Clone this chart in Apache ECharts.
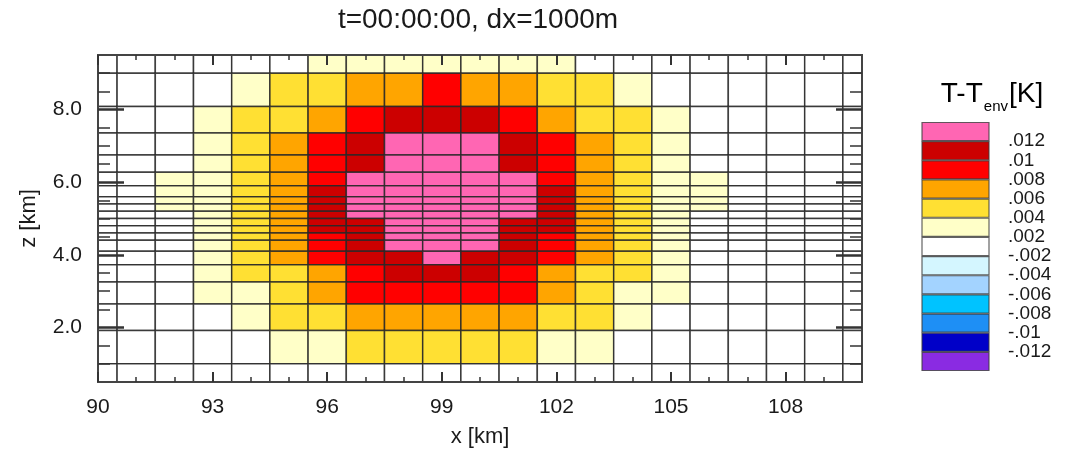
<!DOCTYPE html>
<html>
<head>
<meta charset="utf-8">
<script src="https://cdn.jsdelivr.net/npm/echarts@6/dist/echarts.min.js"></script>
<style>
  html, body { margin: 0; padding: 0; background: #ffffff; }
  #chart { width: 1065px; height: 452px; }
</style>
</head>
<body>
<div id="chart"></div>
<script>
// Column centres of the model grid [km]
const xCenters = [90, 91, 92, 93, 94, 95, 96, 97, 98, 99, 100, 101, 102, 103, 104, 105, 106, 107, 108, 109, 110];
const dx = 1.0;

// Vertical cell edges [km], stretched grid refined around z = 5 km
const zEdges = [0.0, 1.0, 1.92, 2.65, 3.25, 3.73, 4.1, 4.4, 4.6, 4.8, 5.0, 5.2, 5.4, 5.6, 5.9, 6.27, 6.75, 7.35, 8.08, 9.0, 10.0];

// Temperature perturbation T - T_env [K], one row per z cell, top row first
const dT = [
  [0, 0, 0, 0, 0, 0, .003, .003, .003, .003, .003, .003, .003, 0, 0, 0, 0, 0, 0, 0, 0],
  [0, 0, 0, 0, .003, .005, .005, .007, .007, .009, .007, .007, .005, .005, .003, 0, 0, 0, 0, 0, 0],
  [0, 0, 0, .003, .005, .005, .007, .009, .011, .011, .011, .009, .007, .005, .005, .003, 0, 0, 0, 0, 0],
  [0, 0, 0, .003, .005, .007, .009, .011, .013, .013, .013, .011, .009, .007, .005, .003, 0, 0, 0, 0, 0],
  [0, 0, 0, .003, .005, .007, .009, .011, .013, .013, .013, .011, .009, .007, .005, .003, 0, 0, 0, 0, 0],
  [0, 0, .003, .003, .005, .007, .009, .013, .013, .013, .013, .013, .009, .007, .005, .003, .003, 0, 0, 0, 0],
  [0, 0, .003, .003, .005, .007, .011, .013, .013, .013, .013, .013, .011, .007, .005, .003, .003, 0, 0, 0, 0],
  [0, 0, .003, .003, .005, .007, .011, .013, .013, .013, .013, .013, .011, .007, .005, .003, .003, 0, 0, 0, 0],
  [0, 0, .003, .003, .005, .007, .011, .013, .013, .013, .013, .013, .011, .007, .005, .003, .003, 0, 0, 0, 0],
  [0, 0, 0, .003, .005, .007, .011, .013, .013, .013, .013, .013, .011, .007, .005, .003, 0, 0, 0, 0, 0],
  [0, 0, 0, .003, .005, .007, .011, .011, .013, .013, .013, .011, .011, .007, .005, .003, 0, 0, 0, 0, 0],
  [0, 0, 0, .003, .005, .007, .011, .011, .013, .013, .013, .011, .011, .007, .005, .003, 0, 0, 0, 0, 0],
  [0, 0, 0, .003, .005, .007, .009, .011, .013, .013, .013, .011, .009, .007, .005, .003, 0, 0, 0, 0, 0],
  [0, 0, 0, .003, .005, .007, .009, .011, .013, .013, .013, .011, .009, .007, .005, .003, 0, 0, 0, 0, 0],
  [0, 0, 0, .003, .005, .007, .009, .011, .011, .013, .011, .011, .009, .007, .005, .003, 0, 0, 0, 0, 0],
  [0, 0, 0, .003, .005, .005, .007, .009, .011, .011, .011, .009, .007, .005, .005, .003, 0, 0, 0, 0, 0],
  [0, 0, 0, .003, .003, .005, .007, .009, .009, .009, .009, .009, .007, .005, .003, .003, 0, 0, 0, 0, 0],
  [0, 0, 0, 0, .003, .005, .005, .007, .007, .007, .007, .007, .005, .005, .003, 0, 0, 0, 0, 0, 0],
  [0, 0, 0, 0, 0, .003, .003, .005, .005, .005, .005, .005, .003, .003, 0, 0, 0, 0, 0, 0, 0],
  [0, 0, 0, 0, 0, 0, 0, 0, 0, 0, 0, 0, 0, 0, 0, 0, 0, 0, 0, 0, 0]
];

// Contour levels of the colour scale and their labels
const levels = [-0.012, -0.01, -0.008, -0.006, -0.004, -0.002, 0.002, 0.004, 0.006, 0.008, 0.01, 0.012];
const levelLabels = ['-.012', '-.01', '-.008', '-.006', '-.004', '-.002', '.002', '.004', '.006', '.008', '.01', '.012'];
// Fill colours, lowest class first
const levelColors = ['#8a2be2', '#0000c8', '#1e8ff5', '#00c3ff', '#a3d3ff', '#d4f6ff', '#ffffff',
                     '#ffffc8', '#ffe033', '#ffa500', '#ff0000', '#cc0000', '#ff66b3'];

// Axis ticks
const xLabelTicks = [90, 93, 96, 99, 102, 105, 108];
const xMinorTicks = [91, 92, 94, 95, 97, 98, 100, 101, 103, 104, 106, 107, 109];
const zLabelTicks = [2, 4, 6, 8];
const zMinorTicks = [1, 1.5, 2.5, 3, 3.5, 4.5, 5, 5.5, 6.5, 7, 7.5, 8.5, 9];

const nRows = dT.length;
const cells = [];
for (let t = 0; t < nRows; t++) {
  const k = nRows - 1 - t;
  for (let c = 0; c < xCenters.length; c++) {
    cells.push([xCenters[c], (zEdges[k] + zEdges[k + 1]) / 2, dT[t][c], k]);
  }
}

const pieces = [{ lt: levels[0], color: levelColors[0] }];
for (let i = 1; i < levels.length; i++) {
  pieces.push({ gte: levels[i - 1], lt: levels[i], color: levelColors[i] });
}
pieces.push({ gte: levels[levels.length - 1], color: levelColors[levelColors.length - 1] });

const FONT = 'Liberation Sans, Arial, sans-serif';
const INK = '#1a1a1a';
const FRAME = '#444444';

function renderCell(params, api) {
  const xc = api.value(0);
  const k = api.value(3);
  const a = api.coord([xc - dx / 2, zEdges[k + 1]]);
  const b = api.coord([xc + dx / 2, zEdges[k]]);
  const cs = params.coordSys;
  const shape = echarts.graphic.clipRectByRect(
    { x: a[0], y: a[1], width: b[0] - a[0], height: b[1] - a[1] },
    { x: cs.x, y: cs.y, width: cs.width, height: cs.height }
  );
  if (!shape) return;
  return {
    type: 'rect',
    shape: shape,
    style: { fill: api.visual('color'), stroke: 'rgba(40,40,40,0.85)', lineWidth: 1.5 }
  };
}

function renderKey(params, api) {
  const i = api.value(1);
  const a = api.coord([0, i + 1]);
  const b = api.coord([1, i]);
  return {
    type: 'rect',
    shape: { x: a[0], y: a[1] + 0.5, width: b[0] - a[0], height: b[1] - a[1] - 1 },
    style: { fill: levelColors[i], stroke: 'rgba(60,60,60,0.8)', lineWidth: 1.2 }
  };
}

function xAxisDef(pos, ticks, len, width, withLabels) {
  return {
    type: 'value', gridIndex: 0, position: pos, min: 90, max: 110, z: 10,
    axisLine: { show: true, onZero: false, lineStyle: { color: FRAME, width: 2 } },
    axisTick: { show: true, inside: true, length: len, customValues: ticks, lineStyle: { color: '#333', width: width } },
    axisLabel: withLabels ? { show: true, customValues: xLabelTicks, margin: 15, fontSize: 21, fontFamily: FONT, color: INK } : { show: false },
    splitLine: { show: false }
  };
}

function yAxisDef(pos, ticks, len, width, withLabels) {
  return {
    type: 'value', gridIndex: 0, position: pos, min: 0.5, max: 9.5, z: 10,
    axisLine: { show: true, onZero: false, lineStyle: { color: FRAME, width: 2 } },
    axisTick: { show: true, inside: true, length: len, customValues: ticks, lineStyle: { color: '#333', width: width } },
    axisLabel: withLabels ? {
      show: true, customValues: zLabelTicks, margin: 16, fontSize: 21, fontFamily: FONT, color: INK,
      formatter: function (v) { return v.toFixed(1); }
    } : { show: false },
    splitLine: { show: false }
  };
}

const chart = echarts.init(document.getElementById('chart'), null, { renderer: 'canvas' });

const xMain = xAxisDef('bottom', xLabelTicks, 10, 2, true);
xMain.name = 'x [km]';
xMain.nameLocation = 'middle';
xMain.nameGap = 44;
xMain.nameTextStyle = { fontSize: 22, fontFamily: FONT, color: INK };

const yMain = yAxisDef('left', zLabelTicks, 26, 2.5, true);
yMain.name = 'z [km]';
yMain.nameLocation = 'middle';
yMain.nameGap = 58;
yMain.nameTextStyle = { fontSize: 22, fontFamily: FONT, color: INK };

chart.setOption({
  backgroundColor: '#ffffff',
  animation: false,
  grid: [
    { left: 98, top: 55, width: 764, height: 327, outerBoundsMode: 'none' },
    { left: 922, top: 122, width: 67, height: 249, outerBoundsMode: 'none' }
  ],
  graphic: [
    {
      type: 'text', x: 478, y: 20, z: 20,
      style: { text: 't=00:00:00, dx=1000m', fontSize: 28, fontFamily: FONT, fill: INK, textAlign: 'center', textVerticalAlign: 'middle' }
    },
    {
      type: 'text', x: 992, y: 91, z: 20,
      style: {
        text: '{a|T-T}{b|env}{a|[K]}',
        textAlign: 'center', textVerticalAlign: 'middle',
        rich: {
          a: { fontSize: 28, fontFamily: FONT, color: INK, lineHeight: 34, verticalAlign: 'bottom' },
          b: { fontSize: 15, fontFamily: FONT, color: INK, lineHeight: 34, verticalAlign: 'bottom', padding: [0, 1, -6, 1] }
        }
      }
    }
  ],
  visualMap: {
    type: 'piecewise', show: false, seriesIndex: 0, dimension: 2, pieces: pieces
  },
  xAxis: [
    xMain,
    xAxisDef('bottom', xMinorTicks, 5, 1.5, false),
    xAxisDef('top', xLabelTicks, 10, 2, false),
    xAxisDef('top', xMinorTicks, 5, 1.5, false),
    { type: 'value', gridIndex: 1, min: 0, max: 1, show: false }
  ],
  yAxis: [
    yMain,
    yAxisDef('left', zMinorTicks, 12, 1.5, false),
    yAxisDef('right', zLabelTicks, 26, 2.5, false),
    yAxisDef('right', zMinorTicks, 12, 1.5, false),
    {
      type: 'value', gridIndex: 1, position: 'right', min: 0, max: levelColors.length,
      axisLine: { show: false }, axisTick: { show: false }, splitLine: { show: false },
      axisLabel: {
        show: true, customValues: levels.map(function (_, i) { return i + 1; }),
        margin: 19, fontSize: 19, fontFamily: FONT, color: INK,
        formatter: function (v) { return levelLabels[Math.round(v) - 1] || ''; }
      }
    }
  ],
  series: [
    {
      type: 'custom', name: 'T-Tenv', xAxisIndex: 0, yAxisIndex: 0, z: 2,
      renderItem: renderCell,
      encode: { x: 0, y: 1 },
      data: cells
    },
    {
      type: 'custom', name: 'key', xAxisIndex: 4, yAxisIndex: 4, z: 2,
      renderItem: renderKey,
      encode: { x: 0, y: 1 },
      data: levelColors.map(function (_, i) { return [0.5, i]; })
    }
  ]
});
</script>
</body>
</html>
